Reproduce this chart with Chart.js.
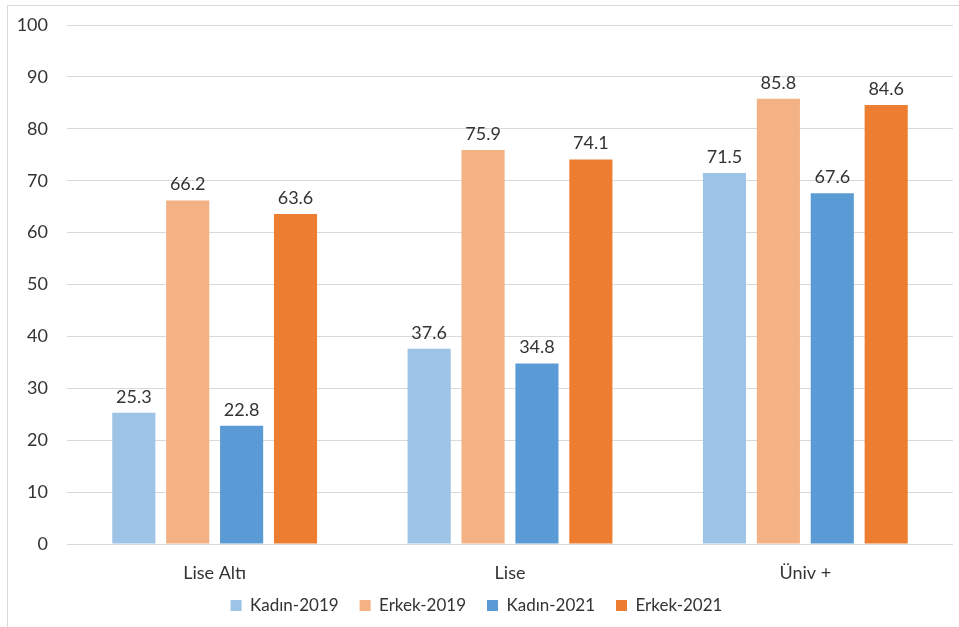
<!DOCTYPE html>
<html>
<head>
<meta charset="utf-8">
<script src="https://cdn.jsdelivr.net/npm/chart.js@4"></script>
<style>
  body { margin: 0; background: #fff; }
  #frame { position: absolute; left: 7px; top: 5px; width: 952px; height: 622px;
           border-left: 1px solid #d9d9d9; border-top: 1px solid #d9d9d9; }
  #wrap { position: absolute; left: 0; top: 0; width: 959px; height: 627px; }
</style>
</head>
<body>
<div id="frame"></div>
<div id="wrap"><canvas id="grafico"></canvas></div>
<script>
// datos del gráfico
const categorias = ['Lise Altı', 'Lise', 'Üniv +'];
const kadin2019 = [25.3, 37.6, 71.5];
const erkek2019 = [66.2, 75.9, 85.8];
const kadin2021 = [22.8, 34.8, 67.6];
const erkek2021 = [63.6, 74.1, 84.6];
const marcasY = [0, 10, 20, 30, 40, 50, 60, 70, 80, 90, 100];

const fuente = 'Lato, "Open Sans", sans-serif';
const gris = '#333333';

// etiquetas de valor encima de cada barra
const etiquetasValor = {
  id: 'etiquetasValor',
  afterDatasetsDraw(chart) {
    const ctx = chart.ctx;
    ctx.save();
    ctx.font = '18px ' + fuente;
    ctx.fillStyle = gris;
    ctx.textAlign = 'center';
    ctx.textBaseline = 'alphabetic';
    chart.data.datasets.forEach((ds, i) => {
      chart.getDatasetMeta(i).data.forEach((bar, j) => {
        ctx.fillText(ds.data[j].toFixed(1), bar.x, bar.y - 10);
      });
    });
    ctx.restore();
  }
};

// la leyenda queda más pegada a las etiquetas del eje X
const ajusteLeyenda = {
  id: 'ajusteLeyenda',
  beforeLayout(chart) {
    const lg = chart.legend;
    if (lg && !lg._parcheado) {
      const fitOriginal = lg.fit.bind(lg);
      lg.fit = function () { fitOriginal(); this.height = 41; };
      lg._parcheado = true;
    }
  },
  afterLayout(chart) {
    const lg = chart.legend;
    if (lg) { lg.top -= 10; lg.bottom -= 10; }
  }
};

new Chart(document.getElementById('grafico'), {
  type: 'bar',
  data: {
    labels: categorias,
    datasets: [
      { label: 'Kadın-2019', data: kadin2019, backgroundColor: '#9dc3e6' },
      { label: 'Erkek-2019', data: erkek2019, backgroundColor: '#f4b183' },
      { label: 'Kadın-2021', data: kadin2021, backgroundColor: '#5b9bd5' },
      { label: 'Erkek-2021', data: erkek2021, backgroundColor: '#ed7d31' }
    ]
  },
  options: {
    responsive: true,
    maintainAspectRatio: false,
    animation: false,
    datasets: { bar: { categoryPercentage: 0.73, barPercentage: 0.8 } },
    layout: { padding: { left: 0, right: 6, top: 25, bottom: 0 } },
    scales: {
      x: {
        afterFit: s => { s.height = 42; },
        grid: { display: false, drawTicks: false },
        border: { display: false },
        ticks: { color: gris, font: { family: fuente, size: 18 }, padding: 18 }
      },
      y: {
        min: 0,
        max: 100,
        afterFit: s => { s.width = 67; s.paddingTop = 4; s.paddingBottom = 4; },
        afterBuildTicks: s => { s.ticks = marcasY.map(v => ({ value: v })); },
        grid: { color: '#d9d9d9', drawTicks: false },
        border: { display: false },
        ticks: { color: gris, font: { family: fuente, size: 18 }, padding: 19 }
      }
    },
    plugins: {
      legend: {
        position: 'bottom',
        labels: {
          color: gris,
          font: { family: fuente, size: 17 },
          boxWidth: 11,
          boxHeight: 11,
          padding: 21
        }
      },
      tooltip: { enabled: false }
    }
  },
  plugins: [etiquetasValor, ajusteLeyenda]
});
</script>
</body>
</html>
